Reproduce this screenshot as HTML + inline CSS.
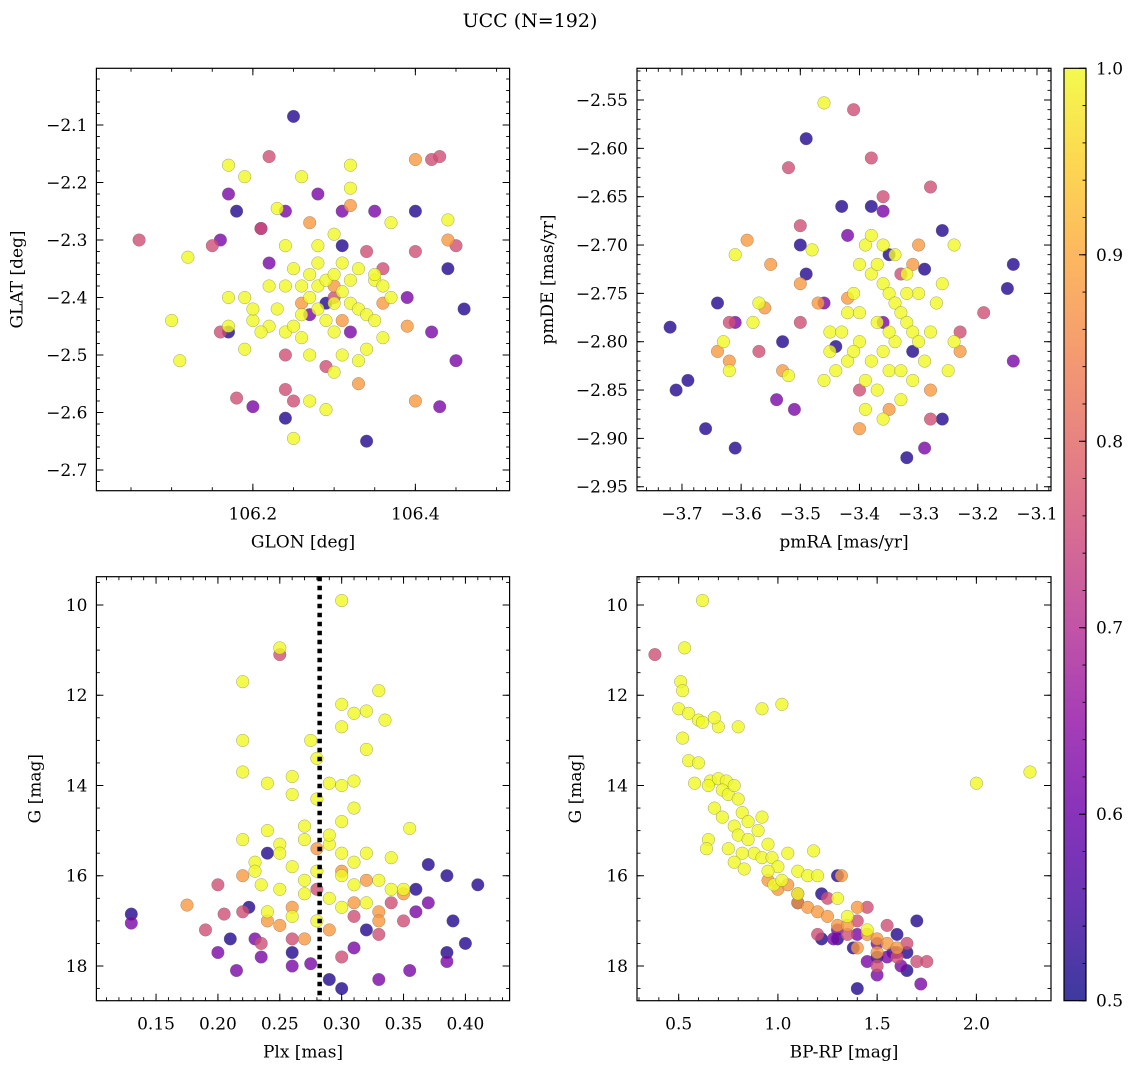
<!DOCTYPE html>
<html><head><meta charset="utf-8"><style>
html,body{margin:0;padding:0;background:#fff;}
svg{display:block;font-family:"DejaVu Serif","Liberation Serif",serif;}
</style></head><body>
<svg id="fig" width="1136" height="1067" viewBox="0 0 1136 1067" xmlns="http://www.w3.org/2000/svg">
<defs>
<linearGradient id="plasma" x1="0" y1="1" x2="0" y2="0">
<stop offset="0" stop-color="#0d0887"/><stop offset="0.1" stop-color="#41049d"/><stop offset="0.2" stop-color="#6a00a8"/><stop offset="0.3" stop-color="#8f0da4"/><stop offset="0.4" stop-color="#b12a90"/><stop offset="0.5" stop-color="#cc4778"/><stop offset="0.6" stop-color="#e16462"/><stop offset="0.7" stop-color="#f2844b"/><stop offset="0.8" stop-color="#fca636"/><stop offset="0.9" stop-color="#fcce25"/><stop offset="1" stop-color="#f0f921"/>
</linearGradient>
</defs>
<text x="530" y="27" font-size="19" text-anchor="middle">UCC (N=192)</text>
</svg>
<script>
// ---- data: [x, y, probability] ----
const glonGlat = [
[106.25,-2.085,0.52],[106.34,-2.65,0.52],[106.24,-2.61,0.52],[106.17,-2.46,0.52],[106.18,-2.25,0.52],[106.31,-2.31,0.52],[106.40,-2.25,0.52],[106.44,-2.35,0.52],[106.46,-2.42,0.52],[106.29,-2.41,0.52],
[106.17,-2.22,0.62],[106.21,-2.28,0.62],[106.24,-2.25,0.62],[106.28,-2.22,0.62],[106.31,-2.25,0.62],[106.35,-2.25,0.62],[106.20,-2.59,0.62],[106.16,-2.30,0.62],[106.43,-2.59,0.62],[106.45,-2.51,0.62],[106.42,-2.46,0.62],[106.32,-2.46,0.62],[106.22,-2.34,0.62],[106.39,-2.40,0.62],[106.27,-2.43,0.62],
[106.06,-2.30,0.76],[106.22,-2.155,0.76],[106.15,-2.31,0.76],[106.16,-2.46,0.76],[106.18,-2.575,0.76],[106.24,-2.56,0.76],[106.25,-2.58,0.76],[106.21,-2.28,0.76],[106.45,-2.31,0.76],[106.42,-2.16,0.76],[106.43,-2.155,0.76],[106.40,-2.32,0.76],[106.34,-2.32,0.76],[106.24,-2.50,0.76],[106.29,-2.52,0.76],[106.30,-2.40,0.76],[106.36,-2.35,0.76],
[106.40,-2.16,0.88],[106.33,-2.55,0.88],[106.40,-2.58,0.88],[106.39,-2.45,0.88],[106.32,-2.24,0.88],[106.26,-2.41,0.88],[106.31,-2.44,0.88],[106.44,-2.30,0.88],[106.36,-2.41,0.88],[106.27,-2.27,0.88],[106.30,-2.38,0.88],
[106.17,-2.17,1.0],[106.12,-2.33,1.0],[106.10,-2.44,1.0],[106.11,-2.51,1.0],[106.19,-2.19,1.0],[106.23,-2.245,1.0],[106.26,-2.19,1.0],[106.32,-2.17,1.0],[106.32,-2.21,1.0],[106.37,-2.27,1.0],[106.44,-2.265,1.0],[106.30,-2.29,1.0],[106.28,-2.31,1.0],[106.25,-2.35,1.0],[106.22,-2.38,1.0],[106.19,-2.40,1.0],[106.17,-2.40,1.0],[106.19,-2.49,1.0],[106.20,-2.44,1.0],[106.22,-2.45,1.0],[106.24,-2.46,1.0],[106.26,-2.47,1.0],[106.27,-2.40,1.0],[106.28,-2.38,1.0],[106.29,-2.37,1.0],[106.30,-2.36,1.0],[106.31,-2.39,1.0],[106.32,-2.41,1.0],[106.33,-2.42,1.0],[106.34,-2.43,1.0],[106.35,-2.44,1.0],[106.36,-2.47,1.0],[106.37,-2.40,1.0],[106.35,-2.37,1.0],[106.33,-2.35,1.0],[106.31,-2.34,1.0],[106.27,-2.36,1.0],[106.26,-2.38,1.0],[106.28,-2.42,1.0],[106.29,-2.44,1.0],[106.30,-2.46,1.0],[106.31,-2.50,1.0],[106.30,-2.53,1.0],[106.27,-2.50,1.0],[106.25,-2.45,1.0],[106.23,-2.42,1.0],[106.24,-2.38,1.0],[106.26,-2.43,1.0],[106.29,-2.595,1.0],[106.25,-2.645,1.0],[106.27,-2.58,1.0],[106.34,-2.49,1.0],[106.35,-2.36,1.0],[106.36,-2.38,1.0],[106.33,-2.51,1.0],[106.21,-2.46,1.0],[106.20,-2.42,1.0],[106.17,-2.45,1.0],[106.30,-2.41,1.0],[106.28,-2.34,1.0],[106.32,-2.37,1.0],[106.24,-2.31,1.0]
];
const pmraPmde = [
[-3.72,-2.785,0.52],[-3.71,-2.85,0.52],[-3.69,-2.84,0.52],[-3.66,-2.89,0.52],[-3.61,-2.91,0.52],[-3.64,-2.76,0.52],[-3.53,-2.80,0.52],[-3.49,-2.59,0.52],[-3.49,-2.73,0.52],[-3.43,-2.66,0.52],[-3.38,-2.66,0.52],[-3.32,-2.92,0.52],[-3.26,-2.88,0.52],[-3.26,-2.685,0.52],[-3.14,-2.72,0.52],[-3.15,-2.745,0.52],[-3.44,-2.805,0.52],[-3.50,-2.70,0.52],[-3.35,-2.71,0.52],[-3.31,-2.81,0.52],[-3.29,-2.725,0.52],
[-3.61,-2.78,0.62],[-3.51,-2.87,0.62],[-3.54,-2.86,0.62],[-3.46,-2.76,0.62],[-3.42,-2.69,0.62],[-3.36,-2.78,0.62],[-3.29,-2.91,0.62],[-3.14,-2.82,0.62],[-3.36,-2.665,0.62],
[-3.41,-2.56,0.76],[-3.52,-2.62,0.76],[-3.38,-2.61,0.76],[-3.50,-2.68,0.76],[-3.28,-2.64,0.76],[-3.28,-2.88,0.76],[-3.19,-2.77,0.76],[-3.23,-2.79,0.76],[-3.62,-2.78,0.76],[-3.50,-2.78,0.76],[-3.57,-2.81,0.76],[-3.40,-2.85,0.76],[-3.36,-2.65,0.76],[-3.33,-2.73,0.76],
[-3.64,-2.81,0.88],[-3.59,-2.695,0.88],[-3.55,-2.72,0.88],[-3.56,-2.765,0.88],[-3.62,-2.82,0.88],[-3.53,-2.83,0.88],[-3.47,-2.76,0.88],[-3.42,-2.755,0.88],[-3.35,-2.87,0.88],[-3.28,-2.85,0.88],[-3.23,-2.81,0.88],[-3.31,-2.72,0.88],[-3.40,-2.89,0.88],[-3.30,-2.70,0.88],[-3.50,-2.74,0.88],
[-3.46,-2.553,1.0],[-3.61,-2.71,1.0],[-3.63,-2.80,1.0],[-3.62,-2.83,1.0],[-3.58,-2.78,1.0],[-3.57,-2.76,1.0],[-3.52,-2.835,1.0],[-3.48,-2.705,1.0],[-3.45,-2.79,1.0],[-3.43,-2.79,1.0],[-3.42,-2.77,1.0],[-3.41,-2.75,1.0],[-3.40,-2.80,1.0],[-3.39,-2.70,1.0],[-3.38,-2.73,1.0],[-3.37,-2.72,1.0],[-3.36,-2.74,1.0],[-3.35,-2.75,1.0],[-3.34,-2.76,1.0],[-3.33,-2.77,1.0],[-3.32,-2.78,1.0],[-3.31,-2.79,1.0],[-3.30,-2.80,1.0],[-3.34,-2.80,1.0],[-3.36,-2.81,1.0],[-3.38,-2.82,1.0],[-3.39,-2.84,1.0],[-3.37,-2.85,1.0],[-3.35,-2.83,1.0],[-3.33,-2.86,1.0],[-3.31,-2.84,1.0],[-3.29,-2.82,1.0],[-3.28,-2.79,1.0],[-3.27,-2.76,1.0],[-3.26,-2.74,1.0],[-3.24,-2.70,1.0],[-3.24,-2.80,1.0],[-3.25,-2.83,1.0],[-3.30,-2.75,1.0],[-3.32,-2.73,1.0],[-3.34,-2.71,1.0],[-3.36,-2.70,1.0],[-3.38,-2.69,1.0],[-3.40,-2.72,1.0],[-3.42,-2.82,1.0],[-3.44,-2.83,1.0],[-3.46,-2.84,1.0],[-3.39,-2.87,1.0],[-3.36,-2.88,1.0],[-3.33,-2.83,1.0],[-3.40,-2.77,1.0],[-3.37,-2.78,1.0],[-3.35,-2.79,1.0],[-3.32,-2.75,1.0],[-3.45,-2.81,1.0],[-3.41,-2.81,1.0]
];
const plxG = [
[0.30,9.9,1.0],[0.25,10.95,1.0],[0.22,11.7,1.0],[0.33,11.9,1.0],[0.30,12.2,1.0],[0.31,12.4,1.0],[0.32,12.35,1.0],[0.335,12.55,1.0],[0.22,13.0,1.0],[0.275,13.0,1.0],[0.28,13.4,1.0],[0.32,13.2,1.0],[0.22,13.7,1.0],[0.24,13.95,1.0],[0.26,13.8,1.0],[0.29,13.95,1.0],[0.30,14.0,1.0],[0.28,14.3,1.0],[0.26,14.2,1.0],[0.31,14.5,1.0],[0.30,14.8,1.0],[0.355,14.95,1.0],[0.24,15.0,1.0],[0.22,15.2,1.0],[0.25,15.3,1.0],[0.27,15.2,1.0],[0.29,15.3,1.0],[0.30,15.5,1.0],[0.32,15.5,1.0],[0.34,15.6,1.0],[0.23,15.7,1.0],[0.25,15.5,1.0],[0.26,15.8,1.0],[0.28,15.9,1.0],[0.30,16.0,1.0],[0.31,16.2,1.0],[0.33,16.1,1.0],[0.34,16.3,1.0],[0.29,16.5,1.0],[0.27,16.4,1.0],[0.24,16.8,1.0],[0.26,16.9,1.0],[0.28,17.0,1.0],[0.30,16.7,1.0],[0.32,16.6,1.0],[0.35,16.3,1.0],[0.27,16.1,1.0],[0.25,16.3,1.0],[0.23,15.9,1.0],[0.31,15.7,1.0],[0.29,15.1,1.0],[0.27,14.9,1.0],[0.31,13.9,1.0],[0.30,12.7,1.0],[0.235,16.2,1.0],
[0.175,16.65,0.88],[0.22,16.0,0.88],[0.24,17.0,0.88],[0.26,16.7,0.88],[0.31,16.6,0.88],[0.33,16.8,0.88],[0.35,16.4,0.88],[0.33,17.0,0.88],[0.29,17.2,0.88],[0.25,17.1,0.88],[0.30,15.9,0.88],[0.28,15.4,0.88],[0.32,16.1,0.88],[0.27,17.4,0.88],
[0.25,11.1,0.76],[0.19,17.2,0.76],[0.20,16.2,0.76],[0.205,16.85,0.76],[0.22,16.8,0.76],[0.235,17.5,0.76],[0.26,17.4,0.76],[0.30,17.8,0.76],[0.33,17.3,0.76],[0.35,17.0,0.76],[0.28,16.3,0.76],[0.31,16.9,0.76],[0.34,16.6,0.76],
[0.13,17.05,0.62],[0.20,17.7,0.62],[0.215,18.1,0.62],[0.23,17.4,0.62],[0.235,17.8,0.62],[0.275,17.95,0.62],[0.33,18.3,0.62],[0.355,18.1,0.62],[0.37,16.6,0.62],[0.385,17.9,0.62],[0.36,16.8,0.62],[0.31,17.6,0.62],[0.26,18.0,0.62],
[0.13,16.85,0.52],[0.21,17.4,0.52],[0.225,16.7,0.52],[0.26,17.7,0.52],[0.29,18.3,0.52],[0.30,18.5,0.52],[0.37,15.75,0.52],[0.385,16.0,0.52],[0.39,17.0,0.52],[0.40,17.5,0.52],[0.41,16.2,0.52],[0.385,17.7,0.52],[0.24,15.5,0.52],[0.32,17.2,0.52],[0.36,16.3,0.52]
];
const bprpG = [
[0.62,9.9,1.0],[0.53,10.95,1.0],[0.51,11.7,1.0],[0.52,11.9,1.0],[0.50,12.3,1.0],[0.55,12.4,1.0],[0.60,12.55,1.0],[0.52,12.95,1.0],[0.55,13.45,1.0],[0.60,13.5,1.0],[0.58,13.95,1.0],[0.66,13.9,1.0],[0.65,14.0,1.0],[0.70,13.85,1.0],[0.74,13.9,1.0],[0.72,14.1,1.0],[0.75,14.2,1.0],[0.78,14.0,1.0],[0.68,14.5,1.0],[0.72,14.7,1.0],[0.80,14.3,1.0],[0.82,14.6,1.0],[0.85,14.8,1.0],[0.78,14.9,1.0],[0.80,15.1,1.0],[0.85,15.2,1.0],[0.90,15.0,1.0],[0.92,14.7,1.0],[0.95,15.3,1.0],[0.88,15.5,1.0],[0.82,15.5,1.0],[0.78,15.7,1.0],[0.83,15.85,1.0],[0.92,15.6,1.0],[0.97,15.6,1.0],[1.00,15.8,1.0],[1.05,15.5,1.0],[0.98,16.2,1.0],[1.02,16.1,1.0],[1.10,15.9,1.0],[1.18,15.45,1.0],[1.15,16.0,1.0],[0.65,15.2,1.0],[0.64,15.4,1.0],[0.75,15.4,1.0],[0.70,12.7,1.0],[0.80,12.7,1.0],[0.92,12.3,1.0],[1.02,12.2,1.0],[2.00,13.95,1.0],[2.27,13.7,1.0],[0.62,12.6,1.0],[0.68,12.5,1.0],[1.20,16.0,1.0],[1.30,16.5,1.0],[1.35,16.9,1.0],[1.45,17.2,1.0],[1.10,16.4,1.0],[0.95,15.9,1.0],
[1.00,16.3,0.88],[1.05,16.2,0.88],[1.10,16.6,0.88],[1.15,16.7,0.88],[1.20,16.8,0.88],[1.25,16.9,0.88],[1.30,17.1,0.88],[1.35,17.1,0.88],[1.40,16.7,0.88],[1.45,17.3,0.88],[1.50,17.4,0.88],[1.40,17.6,0.88],[1.50,17.7,0.88],[1.55,17.5,0.88],[0.95,16.1,0.88],[1.32,16.0,0.88],[1.60,17.6,0.88],
[0.38,11.1,0.76],[1.10,16.4,0.76],[1.25,16.5,0.76],[1.40,17.0,0.76],[1.45,16.7,0.76],[1.55,17.1,0.76],[1.60,17.8,0.76],[1.65,17.5,0.76],[1.70,17.9,0.76],[1.75,17.9,0.76],[1.50,18.0,0.76],[1.35,17.3,0.76],[1.20,17.3,0.76],
[1.30,17.2,0.62],[1.40,17.3,0.62],[1.50,17.5,0.62],[1.55,17.8,0.62],[1.62,18.0,0.62],[1.72,18.4,0.62],[1.50,18.2,0.62],[1.60,17.7,0.62],[1.45,17.9,0.62],[1.28,17.4,0.62],
[1.10,16.6,0.52],[1.30,16.0,0.52],[1.22,16.4,0.52],[1.22,17.4,0.52],[1.30,17.4,0.52],[1.38,17.6,0.52],[1.40,18.5,0.52],[1.50,17.8,0.52],[1.58,17.7,0.52],[1.65,17.7,0.52],[1.70,17.0,0.52],[1.65,18.1,0.52],[1.60,17.3,0.52]
];
const plxLine = [0.2822];
const glonTicks = [106.2, 106.4];
const glatTicks = [-2.1,-2.2,-2.3,-2.4,-2.5,-2.6,-2.7];
const pmraTicks = [-3.7,-3.6,-3.5,-3.4,-3.3,-3.2,-3.1];
const pmdeTicks = [-2.55,-2.60,-2.65,-2.70,-2.75,-2.80,-2.85,-2.90,-2.95];
const plxTicks = [0.15,0.20,0.25,0.30,0.35,0.40];
const gTicks = [10,12,14,16,18];
const bprpTicks = [0.5,1.0,1.5,2.0];
const cbTicks = [0.5,0.6,0.7,0.8,0.9,1.0];

const NS = "http://www.w3.org/2000/svg";
const svg = document.getElementById('fig');
const stops = ["#0d0887","#41049d","#6a00a8","#8f0da4","#b12a90","#cc4778","#e16462","#f2844b","#fca636","#fcce25","#f0f921"];
function hex(h){return [parseInt(h.substr(1,2),16),parseInt(h.substr(3,2),16),parseInt(h.substr(5,2),16)];}
function plasma(p){
  let t=Math.max(0,Math.min(1,(p-0.5)/0.5))*10; let i=Math.min(9,Math.floor(t)); let f=t-i;
  const a=hex(stops[i]), b=hex(stops[i+1]);
  return 'rgb('+a.map((v,k)=>Math.round(v+(b[k]-v)*f)).join(',')+')';
}
function mk(tag,attrs,parent){const e=document.createElementNS(NS,tag);for(const k in attrs)e.setAttribute(k,attrs[k]);(parent||svg).appendChild(e);return e;}
function fmt(v,d){return (v<0?'\u2212':'')+Math.abs(v).toFixed(d);}
const FS=17;

function panel(o){
  const g=mk('g',{});
  
  
  const W=o.x1-o.x0, H=o.y1-o.y0;
  const sx=v=>o.x0+(v-o.xmin)/(o.xmax-o.xmin)*W;
  const sy=v=>o.y0+(v-o.ytop)/(o.ybot-o.ytop)*H;
  const pts=o.data.slice().sort((a,b)=>a[2]-b[2]);
  const pg=mk('g',{},g);
  
  
  for(const d of pts){
    const c=mk('circle',{cx:sx(d[0]).toFixed(1),cy:sy(d[1]).toFixed(1),r:6.3,fill:plasma(d[2]),'fill-opacity':0.8,stroke:'#666','stroke-width':0.5,'stroke-opacity':0.6},pg);
    
    
  }
  if(o.vline){for(const v of o.vline){
    const l=mk('line',{x1:sx(v),x2:sx(v),y1:o.y0,y2:o.y1,stroke:'#000','stroke-width':4.5,'stroke-dasharray':'4.5 4.5'},g);
    
    
  }}
  const fr=mk('rect',{x:o.x0,y:o.y0,width:W,height:H,fill:'none',stroke:'#000','stroke-width':1.2},g);
  
  
  const lo=Math.min(o.xmin,o.xmax), hi=Math.max(o.xmin,o.xmax);
  for(let k=Math.ceil(lo/o.xminor-1e-6);k*o.xminor<=hi+1e-9;k++){const x=sx(k*o.xminor);
    mk('line',{x1:x,x2:x,y1:o.y1,y2:o.y1-3.5,stroke:'#000','stroke-width':0.9},g);
    mk('line',{x1:x,x2:x,y1:o.y0,y2:o.y0+3.5,stroke:'#000','stroke-width':0.9},g);}
  const ylo=Math.min(o.ytop,o.ybot), yhi=Math.max(o.ytop,o.ybot);
  for(let k=Math.ceil(ylo/o.yminor-1e-6);k*o.yminor<=yhi+1e-9;k++){const y=sy(k*o.yminor);
    mk('line',{x1:o.x0,x2:o.x0+3.5,y1:y,y2:y,stroke:'#000','stroke-width':0.9},g);
    mk('line',{x1:o.x1,x2:o.x1-3.5,y1:y,y2:y,stroke:'#000','stroke-width':0.9},g);}
  for(const v of o.xticks){const x=sx(v);
    mk('line',{x1:x,x2:x,y1:o.y1,y2:o.y1-7,stroke:'#000','stroke-width':1},g);
    mk('line',{x1:x,x2:x,y1:o.y0,y2:o.y0+7,stroke:'#000','stroke-width':1},g);
    const t=mk('text',{x:x,y:o.y1+29,'font-size':FS,'text-anchor':'middle'},g);t.textContent=fmt(v,o.xd);
    
    }
  for(const v of o.yticks){const y=sy(v);
    mk('line',{x1:o.x0,x2:o.x0+7,y1:y,y2:y,stroke:'#000','stroke-width':1},g);
    mk('line',{x1:o.x1,x2:o.x1-7,y1:y,y2:y,stroke:'#000','stroke-width':1},g);
    const t=mk('text',{x:o.x0-9,y:y+6,'font-size':FS,'text-anchor':'end'},g);t.textContent=fmt(v,o.yd);
    
    }
  const xl=mk('text',{x:(o.x0+o.x1)/2,y:o.y1+57,'font-size':FS,'text-anchor':'middle'},g);xl.textContent=o.xlabel;
  
  
  const yx=o.x0-o.ylabOff, yy=(o.y0+o.y1)/2;
  const yl=mk('text',{x:yx,y:yy,'font-size':FS,'text-anchor':'middle',transform:'rotate(-90 '+yx+' '+yy+')'},g);yl.textContent=o.ylabel;
  
  
}
const L={x0:96.4,x1:509.6}, R={x0:637,x1:1051}, T={y0:68.3,y1:490.7}, B={y0:576.7,y1:1000.7};
panel({name:'glon-glat-panel',data:glonGlat,x0:L.x0,x1:L.x1,y0:T.y0,y1:T.y1,xmin:106.0074,xmax:106.516,ytop:-2.0014,ybot:-2.736,xticks:glonTicks,yticks:glatTicks,xminor:0.05,yminor:0.02,xd:1,yd:1,xlabel:'GLON [deg]',ylabel:'GLAT [deg]',ylabOff:74});
panel({name:'pmra-pmde-panel',data:pmraPmde,x0:R.x0,x1:R.x1,y0:T.y0,y1:T.y1,xmin:-3.776,xmax:-3.0763,ytop:-2.5172,ybot:-2.9541,xticks:pmraTicks,yticks:pmdeTicks,xminor:0.02,yminor:0.01,xd:1,yd:2,xlabel:'pmRA [mas/yr]',ylabel:'pmDE [mas/yr]',ylabOff:84});
panel({name:'plx-g-panel',data:plxG,vline:plxLine,x0:L.x0,x1:L.x1,y0:B.y0,y1:B.y1,xmin:0.1018,xmax:0.4357,ytop:9.373,ybot:18.769,xticks:plxTicks,yticks:gTicks,xminor:0.01,yminor:0.5,xd:2,yd:0,xlabel:'Plx [mas]',ylabel:'G [mag]',ylabOff:56});
panel({name:'cmd-panel',data:bprpG,x0:R.x0,x1:R.x1,y0:B.y0,y1:B.y1,xmin:0.290,xmax:2.376,ytop:9.373,ybot:18.769,xticks:bprpTicks,yticks:gTicks,xminor:0.1,yminor:0.5,xd:1,yd:0,xlabel:'BP-RP [mag]',ylabel:'G [mag]',ylabOff:56});

const cb=mk('g',{});


const cx0=1064,cx1=1086,cy0=68.3,cy1=1000.7;
mk('rect',{x:cx0,y:cy0,width:cx1-cx0,height:cy1-cy0,fill:'url(#plasma)','fill-opacity':0.8},cb);
mk('rect',{x:cx0,y:cy0,width:cx1-cx0,height:cy1-cy0,fill:'none',stroke:'#000','stroke-width':1.2},cb);
const cy=v=>cy1-(v-0.5)/0.5*(cy1-cy0);
for(let k=25;k<=50;k++){const y=cy(k*0.02);mk('line',{x1:cx1,x2:cx1-3.5,y1:y,y2:y,stroke:'#000','stroke-width':0.9},cb);}
for(const v of cbTicks){const y=cy(v);mk('line',{x1:cx1,x2:cx1-7,y1:y,y2:y,stroke:'#000','stroke-width':1},cb);
  const t=mk('text',{x:cx1+10,y:y+6,'font-size':FS},cb);t.textContent=v.toFixed(1);
  
  }
</script>
</body></html>
